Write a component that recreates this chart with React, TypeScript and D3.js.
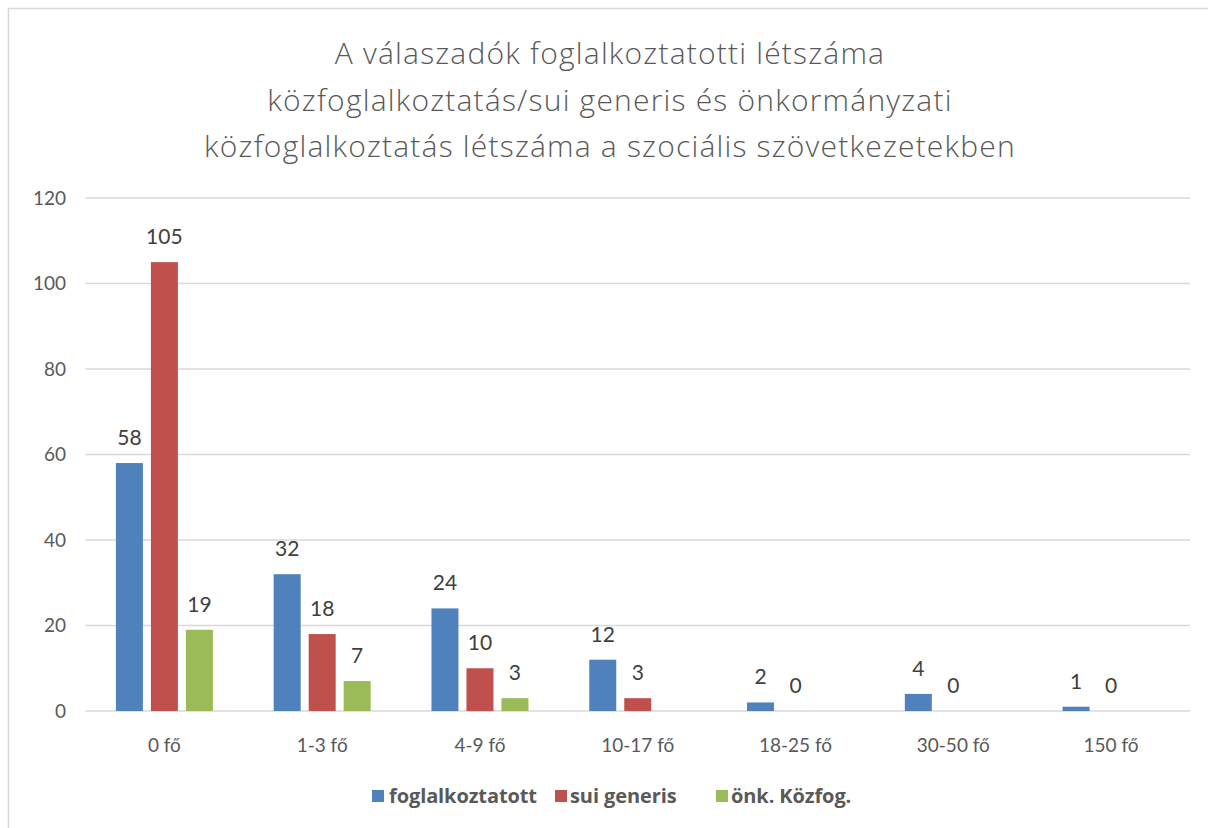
import React from "react";
import * as d3 from "d3";

const categories = ["0 fő", "1-3 fő", "4-9 fő", "10-17 fő", "18-25 fő", "30-50 fő", "150 fő"];
const seriesNames = ["foglalkoztatott", "sui generis", "önk. Közfog."];
const foglalkoztatott: (number | null)[] = [58, 32, 24, 12, 2, 4, 1];
const suiGeneris: (number | null)[] = [105, 18, 10, 3, 0, 0, 0];
const onkKozfog: (number | null)[] = [19, 7, 3, null, null, null, null];
const seriesColors = ["#4F81BD", "#C0504D", "#9BBB59"];
const yTicks = [0, 20, 40, 60, 80, 100, 120];
const titleLines = [
  "A válaszadók foglalkoztatotti létszáma",
  "közfoglalkoztatás/sui generis és önkormányzati",
  "közfoglalkoztatás létszáma a szociális szövetkezetekben",
];

const W = 1208;
const H = 828;
const plot = { left: 85.5, right: 1190, top: 198, bottom: 711 };
const font = "Lato, 'Open Sans', sans-serif";

export default function App() {
  const seriesData = [foglalkoztatott, suiGeneris, onkKozfog];
  const x0 = d3.scaleBand<string>().domain(categories).range([plot.left, plot.right]).padding(0);
  const bw = x0.bandwidth();
  const groupW = 97;
  const x1 = d3
    .scaleBand<string>()
    .domain(seriesNames)
    .range([bw / 2 - groupW / 2, bw / 2 + groupW / 2])
    .paddingInner(8 / 35)
    .paddingOuter(0);
  const y = d3.scaleLinear().domain([0, 120]).range([plot.bottom, plot.top]);

  const legendItems = [
    { x: 372, textX: 389 },
    { x: 555, textX: 570 },
    { x: 716, textX: 731 },
  ];

  return (
    <svg
      width={W}
      height={H}
      style={{ position: "absolute", left: 0, top: 0, background: "#fff" }}
      fontFamily={font}
    >
      <rect x={0} y={0} width={W} height={H} fill="#fff" />
      <rect x={8.5} y={8.5} width={W + 20} height={H + 20} fill="none" stroke="#d9d9d9" strokeWidth={1.5} />

      {titleLines.map((t, i) => (
        <text
          key={i}
          x={610}
          y={64 + i * 46.5}
          textAnchor="middle"
          fontSize={30}
          fill="#595959"
          fontFamily="'Open Sans', sans-serif"
          fontWeight={300}
          letterSpacing={1.2}
        >
          {t}
        </text>
      ))}

      {yTicks.map((t) => (
        <g key={t}>
          <line x1={plot.left} x2={plot.right} y1={y(t)} y2={y(t)} stroke="#d9d9d9" strokeWidth={1.5} />
          <text x={66} y={y(t)} dy="0.35em" textAnchor="end" fontSize={19} fill="#595959">
            {t}
          </text>
        </g>
      ))}

      {categories.map((c, ci) => (
        <g key={c} transform={`translate(${x0(c)},0)`}>
          {seriesNames.map((s, si) => {
            const v = seriesData[si][ci];
            if (v === null || v === undefined) return null;
            const bx = x1(s)!;
            const w = x1.bandwidth();
            return (
              <g key={s}>
                {v > 0 && (
                  <rect x={bx} y={y(v)} width={w} height={y(0) - y(v)} fill={seriesColors[si]} />
                )}
                <text
                  x={bx + w / 2}
                  y={y(v) - 18}
                  textAnchor="middle"
                  fontSize={21}
                  fill="#404040"
                >
                  {v}
                </text>
              </g>
            );
          })}
          <text x={bw / 2} y={752} textAnchor="middle" fontSize={19} fill="#595959">
            {c}
          </text>
        </g>
      ))}

      {seriesNames.map((s, i) => (
        <g key={s}>
          <rect x={legendItems[i].x} y={790} width={12} height={12} fill={seriesColors[i]} />
          <text
            x={legendItems[i].textX}
            y={803}
            fontSize={20}
            fontWeight={700}
            fill="#595959"
            fontFamily="'Open Sans', sans-serif"
            letterSpacing={-0.1}
          >
            {s}
          </text>
        </g>
      ))}
    </svg>
  );
}
